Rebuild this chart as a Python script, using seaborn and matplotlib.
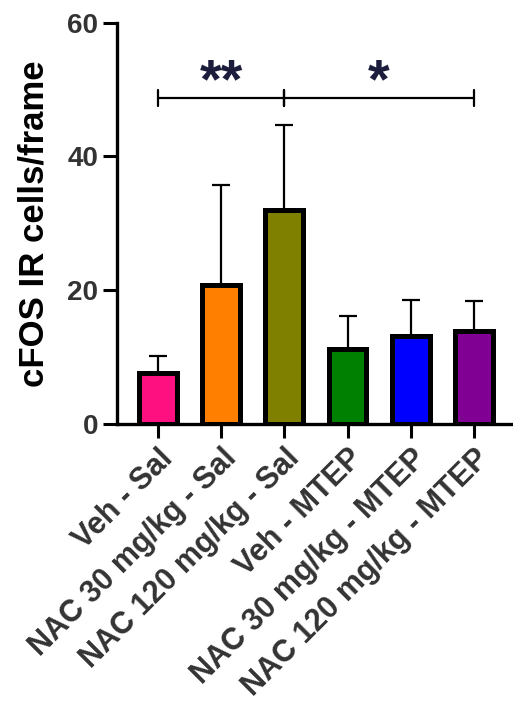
import numpy as np
import pandas as pd
import matplotlib
matplotlib.use("Agg")
import matplotlib.pyplot as plt
import seaborn as sns

groups = ["Veh - Sal", "NAC 30 mg/kg - Sal", "NAC 120 mg/kg - Sal",
          "Veh - MTEP", "NAC 30 mg/kg - MTEP", "NAC 120 mg/kg - MTEP"]
means = [7.6, 20.8, 32.0, 11.2, 13.2, 13.9]
errors = [2.6, 14.9, 12.7, 5.0, 5.4, 4.5]
colors = ["#FF1080", "#FF8000", "#808000", "#008000", "#0000FF", "#800094"]

# significance brackets: (left bar, right bar, label)
brackets = [(0, 2, "**"), (2, 5, "*")]
bracket_y = 48.8
star_y = 47.0

sns.set_theme(style="ticks")
plt.rcParams["font.family"] = ["Liberation Sans", "DejaVu Sans"]
plt.rcParams["font.weight"] = "bold"

df = pd.DataFrame({"group": groups, "mean": means})

fig = plt.figure(figsize=(5.13, 7.08), dpi=100)
ax = fig.add_axes([0.228, 0.401, 0.772, 0.567])

x = np.arange(len(groups))
ax.errorbar(x, means, yerr=[np.zeros(len(means)), errors], fmt="none",
            ecolor="black", elinewidth=1.6, capsize=6.5, capthick=1.6, zorder=1)
sns.barplot(data=df, x="group", y="mean", hue="group", palette=colors,
            saturation=1, legend=False, errorbar=None, width=0.6,
            edgecolor="black", linewidth=3.6, ax=ax, zorder=2)

for left, right, label in brackets:
    ax.plot([left, right], [bracket_y, bracket_y], color="black", lw=1.6,
            solid_capstyle="butt")
    for xi in (left, right):
        ax.plot([xi, xi], [bracket_y - 1.2, bracket_y + 1.2], color="black", lw=1.6)
    ax.text((left + right) / 2, star_y, label, ha="center", va="bottom",
            fontsize=40, fontweight="bold", color="#1C1C3C")

ax.set_xlim(-0.65, 5.62)
ax.set_ylim(0, 60)
ax.set_yticks([0, 20, 40, 60])
ax.set_xlabel("")
ax.set_ylabel("cFOS IR cells/frame", fontsize=25, fontweight="bold",
              color="black", labelpad=12)

sns.despine(ax=ax)
for side in ("left", "bottom"):
    ax.spines[side].set_linewidth(2.4)
    ax.spines[side].set_color("black")
ax.tick_params(axis="both", width=2.2, length=10, color="black",
               labelcolor="#333333", labelsize=20)
ax.tick_params(axis="x", labelsize=22, pad=4)
for lab in ax.get_yticklabels():
    lab.set_fontweight("bold")
for lab in ax.get_xticklabels():
    lab.set_fontweight("bold")
    lab.set_rotation(45)
    lab.set_ha("right")
    lab.set_va("top")
    lab.set_rotation_mode("anchor")

fig.savefig("out.png", dpi=100)
